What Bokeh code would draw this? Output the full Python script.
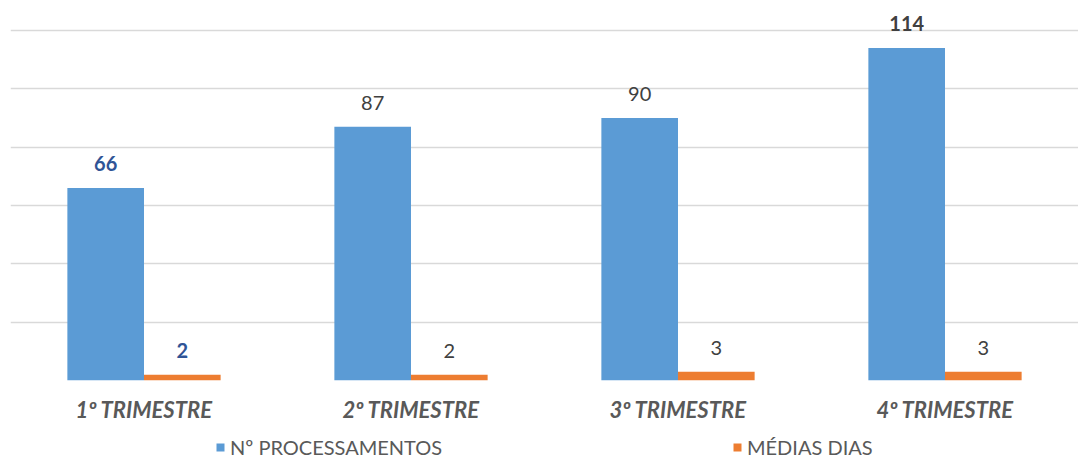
from bokeh.plotting import figure
from bokeh.layouts import column
from bokeh.models import ColumnDataSource, FactorRange, FixedTicker, Legend, LegendItem, Range1d
from bokeh.transform import dodge
from bokeh.embed import file_html
from bokeh.resources import INLINE
from bokeh.core.properties import value

categories = ["1º TRIMESTRE", "2º TRIMESTRE", "3º TRIMESTRE", "4º TRIMESTRE"]
processamentos = [66, 87, 90, 114]
medias_dias = [2, 2, 3, 3]
series_names = ["Nº PROCESSAMENTOS", "MÉDIAS DIAS"]
y_ticks = [0, 20, 40, 60, 80, 100, 120]

BLUE = "#5B9BD5"
ORANGE = "#ED7D31"
FONT = "Lato"

p = figure(x_range=FactorRange(*categories, range_padding=0), y_range=(0, 130.3),
           width=1078, height=426, output_backend="svg", toolbar_location=None,
           min_border_left=10, min_border_right=0, min_border_top=0, min_border_bottom=46)
p.outline_line_color = None

bw = 0.287
src = ColumnDataSource(dict(
    cat=categories, proc=processamentos, med=medias_dias,
    proc_lbl=[str(v) for v in processamentos], med_lbl=[str(v) for v in medias_dias],
    lbl_color=["#2F5496", "#404040", "#404040", "#404040"],
    proc_style=["bold", "normal", "normal", "bold"],
    med_style=["bold", "normal", "normal", "normal"],
))

p.vbar(x=dodge("cat", -bw / 2, range=p.x_range), top="proc", width=bw, source=src,
       fill_color=BLUE, line_color=None)
p.vbar(x=dodge("cat", bw / 2, range=p.x_range), top="med", width=bw, source=src,
       fill_color=ORANGE, line_color=None)

p.text(x=dodge("cat", -bw / 2, range=p.x_range), y="proc", text="proc_lbl", source=src,
       text_align="center", text_baseline="bottom", y_offset=-17,
       text_font=value(FONT), text_font_size="20px", text_color="lbl_color",
       text_font_style="proc_style")
p.text(x=dodge("cat", bw / 2, range=p.x_range), y="med", text="med_lbl", source=src,
       text_align="center", text_baseline="bottom", y_offset=-17,
       text_font=value(FONT), text_font_size="20px", text_color="lbl_color",
       text_font_style="med_style")

p.yaxis.visible = False
p.ygrid.ticker = FixedTicker(ticks=y_ticks)
p.ygrid.grid_line_color = "#D9D9D9"
p.ygrid.grid_line_width = 1.5
p.xgrid.grid_line_color = None

xa = p.xaxis[0]
xa.axis_line_color = None
xa.major_tick_line_color = None
xa.minor_tick_line_color = None
xa.major_label_text_font = FONT
xa.major_label_text_font_size = "22px"
xa.major_label_text_font_style = "bold italic"
xa.major_label_text_color = "#595959"
xa.major_label_standoff = 9

# legend strip (the bars are out of its view; only their legend swatches show)
p2 = figure(width=1078, height=33, output_backend="svg", toolbar_location=None,
            min_border=0, x_range=p.x_range, y_range=Range1d(500, 501))
p2.outline_line_color = None
p2.axis.visible = False
p2.grid.visible = False
d1 = p2.vbar(x="cat", top="proc", width=bw, source=src, fill_color=BLUE, line_color=None)
d2 = p2.vbar(x="cat", top="med", width=bw, source=src, fill_color=ORANGE, line_color=None)

legend = Legend(items=[LegendItem(label=series_names[0], renderers=[d1]),
                       LegendItem(label=series_names[1], renderers=[d2])],
                orientation="horizontal", location=(205, 0),
                label_text_font=FONT, label_text_font_size="20px", label_text_color="#595959",
                glyph_width=10, glyph_height=10, spacing=10, label_width=492,
                padding=0, margin=0, label_standoff=5,
                border_line_color=None, background_fill_alpha=0)
p2.add_layout(legend, "center")

layout = column(p, p2, spacing=0)
open("out.html", "w").write(file_html(layout, INLINE))
